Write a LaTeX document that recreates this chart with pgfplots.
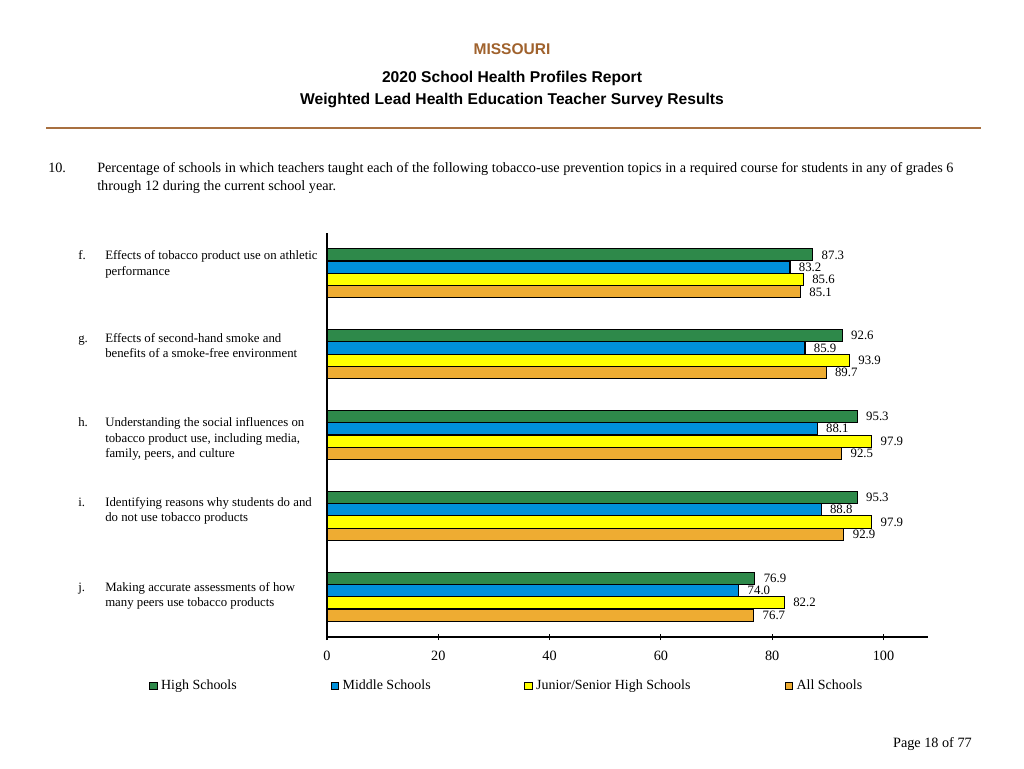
\documentclass[border=0pt]{standalone}
\usepackage{pgfplots}
\pgfplotsset{compat=1.18}
\usepackage{fontspec}
\setmainfont{Liberation Serif}
\newfontfamily\arial{Liberation Sans}
\definecolor{hs}{RGB}{46,137,74}
\definecolor{ms}{RGB}{0,144,218}
\definecolor{js}{RGB}{255,255,0}
\definecolor{as}{RGB}{238,172,50}
\definecolor{headbrown}{RGB}{160,98,45}
\definecolor{rulebrown}{RGB}{168,112,64}
\begin{document}
\begin{tikzpicture}[x=0.7734pt,y=-0.7734pt]
\path[use as bounding box, fill=white] (0,0) rectangle (1024,768);
\coordinate (A) at (327,637);
\node[font=\arial\bfseries\fontsize{12}{14}\selectfont, text=headbrown] at (512,49) {MISSOURI};
\node[font=\arial\bfseries\fontsize{12.1}{14}\selectfont] at (512,78) {2020 School Health Profiles Report};
\node[font=\arial\bfseries\fontsize{12.1}{14}\selectfont] at (512,100) {Weighted Lead Health Education Teacher Survey Results};
\draw[rulebrown, line width=1.4pt] (46,128) -- (981,128);
\begin{scope}[every node/.style={anchor=base west, inner sep=0pt, font=\fontsize{11}{13}\selectfont}]
\node at (48,172) {10.};
\node at (97,172) {Percentage of schools in which teachers taught each of the following tobacco-use prevention topics in a required course for students in any of grades 6};
\node at (97,190) {through 12 during the current school year.};
\end{scope}
\begin{scope}[every node/.style={anchor=base west, inner sep=0pt, font=\fontsize{9.9}{11}\selectfont}]
\node at (78,259) {f.};
\node at (105,259) {Effects of tobacco product use on athletic};
\node at (105,275) {performance};
\node at (78,342) {g.};
\node at (105,342) {Effects of second-hand smoke and};
\node at (105,357) {benefits of a smoke-free environment};
\node at (78,426) {h.};
\node at (105,426) {Understanding the social influences on};
\node at (105,442) {tobacco product use, including media,};
\node at (105,457) {family, peers, and culture};
\node at (78,506) {i.};
\node at (105,506) {Identifying reasons why students do and};
\node at (105,521) {do not use tobacco products};
\node at (78,591) {j.};
\node at (105,591) {Making accurate assessments of how};
\node at (105,606) {many peers use tobacco products};
\end{scope}
\node[anchor=base east, inner sep=0pt, font=\fontsize{11}{13}\selectfont] at (972,747) {Page 18 of 77};
\begin{axis}[
  at={(A)}, anchor=south west,
  scale only axis, width=464.8pt, height=312.5pt,
  xbar, bar width=9.4pt,
  xmin=0, xmax=108, ymin=-0.5, ymax=4.5,
  axis x line*=bottom, axis y line*=left,
  axis line style={-, black, line width=0.8pt},
  xtick={0,20,40,60,80,100}, ytick=\empty,
  tick align=center, major tick length=5pt,
  tick style={black, line width=0.8pt},
  /pgf/number format/assume math mode=true,
  ticklabel style={font=\fontsize{11}{13}\selectfont},
  xticklabel style={yshift=-4.8pt},
  point meta=x,
  nodes near coords={\pgfmathprintnumber[fixed,fixed zerofill,precision=1]{\pgfplotspointmeta}},
  nodes near coords align={horizontal},
  every node near coord/.append style={font=\fontsize{9.9}{11}\selectfont, black, anchor=west, inner sep=0pt, xshift=6.5pt},
  legend columns=4,
  legend style={at={(-0.2962,-0.1213)}, anchor=west, draw=none, fill=none,
    inner sep=0pt, font=\fontsize{10.8}{13}\selectfont,
    nodes={inner sep=0pt, anchor=west},
    /tikz/every odd column/.style={column sep=2.6pt}},
  legend image code/.code={\draw[#1,draw=black,line width=0.8pt] (0pt,-2.9pt) rectangle (5.8pt,2.9pt);},
]
\addplot[fill=hs, draw=black, line width=0.8pt, bar shift=14.3pt] coordinates {(87.3,4) (92.6,3) (95.3,2) (95.3,1) (76.9,0)};
\addplot[fill=ms, draw=black, line width=0.8pt, bar shift=4.77pt] coordinates {(83.2,4) (85.9,3) (88.1,2) (88.8,1) (74.0,0)};
\addplot[fill=js, draw=black, line width=0.8pt, bar shift=-4.77pt] coordinates {(85.6,4) (93.9,3) (97.9,2) (97.9,1) (82.2,0)};
\addplot[fill=as, draw=black, line width=0.8pt, bar shift=-14.3pt] coordinates {(85.1,4) (89.7,3) (92.5,2) (92.9,1) (76.7,0)};
\legend{\makebox[131.2pt][l]{High Schools},\makebox[140.4pt][l]{Middle Schools},\makebox[192.3pt][l]{Junior/Senior High Schools},All Schools}
\end{axis}
\end{tikzpicture}
\end{document}
